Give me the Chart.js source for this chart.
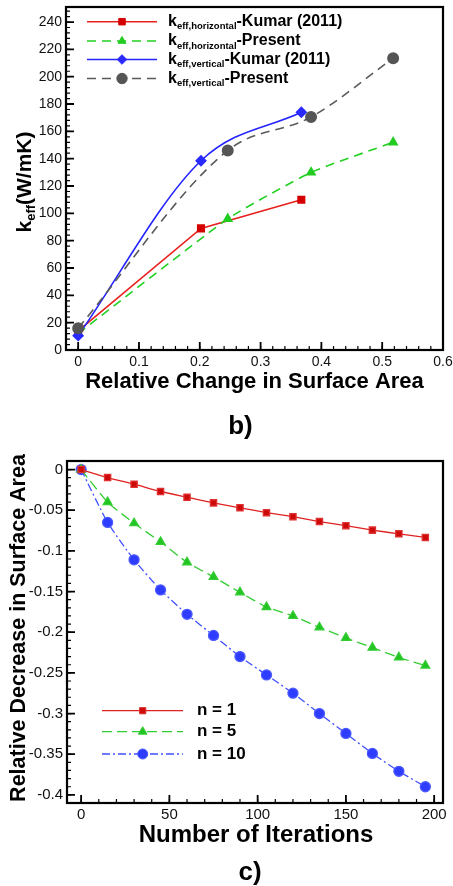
<!DOCTYPE html>
<html>
<head>
<meta charset="utf-8">
<script src="https://cdn.jsdelivr.net/npm/chart.js@4.4.1/dist/chart.umd.min.js"></script>
<style>
    html, body { margin: 0; padding: 0; background: #fff; }
    .box { position: relative; width: 453px; height: 443px; }
    canvas { display: block; }
</style>
</head>
<body>
<div class="box"><canvas id="chartB" width="453" height="443"></canvas></div>
<div class="box"><canvas id="chartC" width="453" height="443"></canvas></div>
<script>
// ---------- Data: panel b) ----------
const kumarChange = [0, 0.202, 0.367];
const kHorizKumar = [14, 89, 110];
const kVertKumar = [10.5, 138.5, 174];
const presentChange = [0, 0.246, 0.383, 0.518];
const kHorizPresent = [12, 96, 130, 152];
const kVertPresent = [16, 146, 170.5, 213.5];

// ---------- Data: panel c) ----------
const iterations = [0, 15, 30, 45, 60, 75, 90, 105, 120, 135, 150, 165, 180, 195];
const decreaseN1 = [0, -0.0098, -0.018, -0.027, -0.034, -0.041, -0.047, -0.053, -0.058, -0.064, -0.069, -0.0745, -0.079, -0.0835];
const decreaseN5 = [0, -0.040, -0.066, -0.089, -0.114, -0.132, -0.151, -0.169, -0.180, -0.194, -0.207, -0.219, -0.231, -0.241];
const decreaseN10 = [0, -0.065, -0.111, -0.148, -0.178, -0.204, -0.230, -0.2525, -0.275, -0.300, -0.3245, -0.349, -0.371, -0.390];

const FONT = '"Liberation Sans", Arial, Helvetica, sans-serif';

// ---------- Helpers ----------

function pts(xs, ys) {
    return xs.map((x, i) => ({ x, y: ys[i] }));
}

function fmt(v) {
    return String(Number(v.toFixed(2)));
}

// draws text made of parts (for subscripts), centred or left aligned
function drawRich(ctx, parts, x, y, align, rotate) {
    ctx.save();
    ctx.translate(x, y);
    if (rotate) ctx.rotate(-Math.PI / 2);
    ctx.textBaseline = 'middle';
    ctx.textAlign = 'left';
    let total = 0;
    parts.forEach(p => {
        ctx.font = 'bold ' + p.size + 'px ' + FONT;
        p.w = ctx.measureText(p.text).width;
        total += p.w;
    });
    let cx = align === 'center' ? -total / 2 : 0;
    parts.forEach(p => {
        ctx.font = 'bold ' + p.size + 'px ' + FONT;
        ctx.fillText(p.text, cx, p.dy || 0);
        cx += p.w;
    });
    ctx.restore();
}

// fixes the chart area so it lines up with the reference frame
function fixScales(yWidth, xHeight) {
    return {
        y: s => { s.width = yWidth; s.paddingTop = 0; s.paddingBottom = 0; },
        x: s => { s.height = xHeight; s.paddingLeft = 0; s.paddingRight = 0; }
    };
}

// ---------- Plugins ----------

const framePlugin = {
    id: 'frame',
    afterDatasetsDraw(chart, args, opts) {
        const { ctx, chartArea: a, scales } = chart;
        ctx.save();
        ctx.strokeStyle = '#000';
        ctx.setLineDash([]);

        const ticks = (scale, step, len, horizontal) => {
            ctx.beginPath();
            const first = Math.ceil(scale.min / step - 1e-6);
            for (let i = first; i * step <= scale.max + 1e-9; i++) {
                const p = scale.getPixelForValue(i * step);
                if (horizontal) {
                    ctx.moveTo(p, a.bottom);
                    ctx.lineTo(p, a.bottom - len);
                } else {
                    ctx.moveTo(a.left, p);
                    ctx.lineTo(a.left + len, p);
                }
            }
            ctx.stroke();
        };

        ctx.lineWidth = 1.2;
        ticks(scales.x, opts.xMinor, opts.minorLen, true);
        ticks(scales.y, opts.yMinor, opts.minorLen, false);
        ctx.lineWidth = 1.8;
        ticks(scales.x, opts.xMajor, opts.majorLen, true);
        ticks(scales.y, opts.yMajor, opts.majorLen, false);

        ctx.lineWidth = 2.2;
        ctx.strokeRect(a.left, a.top, a.right - a.left, a.bottom - a.top);
        ctx.restore();
    }
};

const legendPlugin = {
    id: 'richLegend',
    afterDraw(chart, args, opts) {
        const ctx = chart.ctx;
        opts.items.forEach(item => {
            const ds = chart.data.datasets[item.dataset];
            ctx.save();
            ctx.strokeStyle = ds.borderColor;
            ctx.lineWidth = ds.borderWidth;
            ctx.setLineDash(ds.borderDash || []);
            ctx.beginPath();
            ctx.moveTo(opts.lineStart, item.y);
            ctx.lineTo(opts.lineEnd, item.y);
            ctx.stroke();
            ctx.setLineDash([]);
            ctx.fillStyle = ds.pointBackgroundColor;
            ctx.strokeStyle = ds.pointBorderColor;
            ctx.lineWidth = 1;
            Chart.helpers.drawPoint(ctx, {
                pointStyle: ds.pointStyle,
                radius: ds.pointRadius,
                rotation: 0,
                borderWidth: 1
            }, opts.marker, item.y);
            ctx.fillStyle = '#000';
            drawRich(ctx, item.parts, opts.textX, item.y, 'left', false);
            ctx.restore();
        });
    }
};

const titlePlugin = {
    id: 'richTitles',
    afterDraw(chart, args, opts) {
        const ctx = chart.ctx;
        ctx.save();
        ctx.fillStyle = '#000';
        opts.texts.forEach(t => drawRich(ctx, t.parts, t.x, t.y, 'center', t.rotate));
        ctx.restore();
    }
};

function axisOptions(min, max, step, size, pad, fit) {
    return {
        type: 'linear',
        min, max,
        grid: { display: false, drawTicks: false },
        border: { display: false },
        ticks: {
            stepSize: step,
            includeBounds: false,
            padding: pad,
            color: '#111',
            font: { family: FONT, size },
            callback: v => fmt(v)
        },
        afterFit: fit
    };
}

// ---------- Chart b) ----------

const fitB = fixScales(66, 93);

new Chart(document.getElementById('chartB'), {
    type: 'scatter',
    data: {
        datasets: [
            {
                label: 'keff,horizontal-Kumar (2011)',
                data: pts(kumarChange, kHorizKumar),
                showLine: true, tension: 0, order: 4,
                borderColor: '#e8201e', borderWidth: 1.6,
                pointStyle: 'rect', pointRadius: 4.6,
                pointBackgroundColor: '#d40000', pointBorderColor: '#d40000'
            },
            {
                label: 'keff,horizontal-Present',
                data: pts(presentChange, kHorizPresent),
                showLine: true, tension: 0.15, order: 3,
                borderColor: '#22d022', borderWidth: 1.6, borderDash: [9, 6],
                pointStyle: 'triangle', pointRadius: 4.6,
                pointBackgroundColor: '#22cc22', pointBorderColor: '#22cc22'
            },
            {
                label: 'keff,vertical-Kumar (2011)',
                data: pts(kumarChange, kVertKumar),
                showLine: true, cubicInterpolationMode: 'monotone', order: 2,
                borderColor: '#2424ff', borderWidth: 1.6,
                pointStyle: 'rectRot', pointRadius: 4.8,
                pointBackgroundColor: '#2a2aff', pointBorderColor: '#2a2aff'
            },
            {
                label: 'keff,vertical-Present',
                data: pts(presentChange, kVertPresent),
                showLine: true, cubicInterpolationMode: 'monotone', order: 1,
                borderColor: '#5a5a5a', borderWidth: 1.6, borderDash: [9, 6],
                pointStyle: 'circle', pointRadius: 5.2,
                pointBackgroundColor: '#555', pointBorderColor: '#555'
            }
        ]
    },
    options: {
        responsive: false,
        animation: false,
        devicePixelRatio: 1,
        layout: { padding: { top: 7, right: 10, left: 0, bottom: 0 } },
        scales: {
            x: axisOptions(-0.02, 0.6, 0.1, 14, 4, fitB.x),
            y: axisOptions(0, 251, 20, 14, 4, fitB.y)
        },
        plugins: {
            legend: { display: false },
            tooltip: { enabled: false },
            frame: { xMajor: 0.1, xMinor: 0.02, yMajor: 20, yMinor: 4, majorLen: 8, minorLen: 4 },
            richLegend: {
                lineStart: 87, lineEnd: 157, marker: 122, textX: 168,
                items: [
                    { dataset: 0, y: 21.7, parts: [{ text: 'k', size: 16 }, { text: 'eff,horizontal', size: 9.5, dy: 5 }, { text: '-Kumar (2011)', size: 16 }] },
                    { dataset: 1, y: 41, parts: [{ text: 'k', size: 16 }, { text: 'eff,horizontal', size: 9.5, dy: 5 }, { text: '-Present', size: 16 }] },
                    { dataset: 2, y: 59.5, parts: [{ text: 'k', size: 16 }, { text: 'eff,vertical', size: 9.5, dy: 5 }, { text: '-Kumar (2011)', size: 16 }] },
                    { dataset: 3, y: 78.5, parts: [{ text: 'k', size: 16 }, { text: 'eff,vertical', size: 9.5, dy: 5 }, { text: '-Present', size: 16 }] }
                ]
            },
            richTitles: {
                texts: [
                    { x: 25, y: 182, rotate: true, parts: [{ text: 'k', size: 21 }, { text: 'eff', size: 13, dy: 6 }, { text: '(W/mK)', size: 21 }] },
                    { x: 254.5, y: 382, parts: [{ text: 'Relative Change in Surface Area', size: 22 }] },
                    { x: 240.5, y: 427, parts: [{ text: 'b)', size: 26 }] }
                ]
            }
        }
    },
    plugins: [framePlugin, legendPlugin, titlePlugin]
});

// ---------- Chart c) ----------

const fitC = fixScales(67, 83);

new Chart(document.getElementById('chartC'), {
    type: 'scatter',
    data: {
        datasets: [
            {
                label: 'n = 1',
                data: pts(iterations, decreaseN1),
                showLine: true, tension: 0.2,
                borderColor: '#e02222', borderWidth: 1.3,
                pointStyle: 'rect', pointRadius: 4.4,
                pointBackgroundColor: '#cc0a0a', pointBorderColor: '#e03030'
            },
            {
                label: 'n = 5',
                data: pts(iterations, decreaseN5),
                showLine: true, tension: 0.2,
                borderColor: '#33cc33', borderWidth: 1.3, borderDash: [10, 5],
                pointStyle: 'triangle', pointRadius: 5,
                pointBackgroundColor: '#22c422', pointBorderColor: '#33cc33'
            },
            {
                label: 'n = 10',
                data: pts(iterations, decreaseN10),
                showLine: true, tension: 0.2,
                borderColor: '#4050ff', borderWidth: 1.3, borderDash: [8, 3, 2, 3],
                pointStyle: 'circle', pointRadius: 5,
                pointBackgroundColor: '#2d3cff', pointBorderColor: '#4a58ff'
            }
        ]
    },
    options: {
        responsive: false,
        animation: false,
        devicePixelRatio: 1,
        layout: { padding: { top: 18, right: 10, left: 0, bottom: 0 } },
        scales: {
            x: axisOptions(-8, 205, 50, 15, 3, fitC.x),
            y: axisOptions(-0.41, 0.0105, 0.05, 15, 4, fitC.y)
        },
        plugins: {
            legend: { display: false },
            tooltip: { enabled: false },
            frame: { xMajor: 50, xMinor: 10, yMajor: 0.05, yMinor: 0.01, majorLen: 8, minorLen: 4 },
            richLegend: {
                lineStart: 102, lineEnd: 183, marker: 142.7, textX: 197,
                items: [
                    { dataset: 0, y: 267.7, parts: [{ text: 'n = 1', size: 17 }] },
                    { dataset: 1, y: 288.7, parts: [{ text: 'n = 5', size: 17 }] },
                    { dataset: 2, y: 311, parts: [{ text: 'n = 10', size: 17 }] }
                ]
            },
            richTitles: {
                texts: [
                    { x: 19, y: 185, rotate: true, parts: [{ text: 'Relative Decrease in Surface Area', size: 21.5 }] },
                    { x: 256, y: 392, parts: [{ text: 'Number of Iterations', size: 24 }] },
                    { x: 250, y: 430, parts: [{ text: 'c)', size: 26 }] }
                ]
            }
        }
    },
    plugins: [framePlugin, legendPlugin, titlePlugin]
});
</script>
</body>
</html>
